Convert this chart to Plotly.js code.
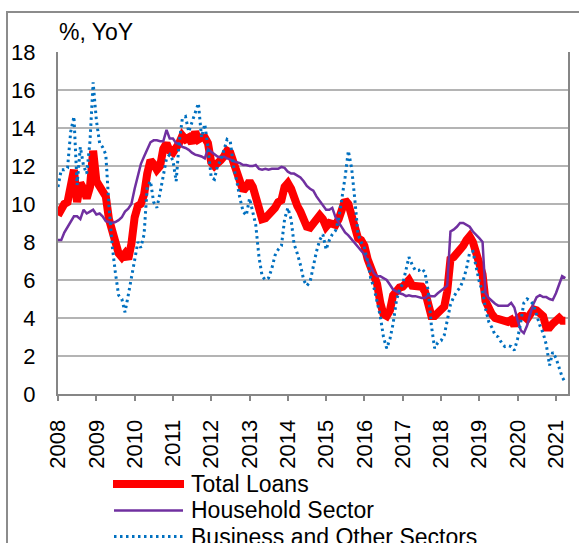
<!DOCTYPE html>
<html>
<head>
<meta charset="utf-8">
<script src="https://cdn.plot.ly/plotly-3.0.1.min.js"></script>
<style>
  html, body { margin: 0; padding: 0; background: #fff; overflow: hidden; }
  #wrap { position: relative; width: 579px; height: 543px; }
  #chart { position: absolute; left: 0; top: 0; width: 579px; height: 543px; }
  #frame { position: absolute; left: 6px; top: 11px; width: 700px; height: 700px;
           border: 2px solid #8c8c8c; pointer-events: none; }
</style>
</head>
<body>
<div id="wrap">
  <div id="chart"></div>
  <div id="frame"></div>
</div>
<script>
// Monthly loan growth, % year on year, January 2008 to April 2021
const startYear = 2008;
const seriesNames = ["Total Loans", "Household Sector", "Business and Other Sectors"];

const totalLoans = [
  9.4, 9.8, 10.0, 10.1, 11.0, 11.8, 10.1, 11.1, 10.8, 10.3, 10.9, 12.8,
  11.2, 10.9, 10.8, 10.4, 9.2, 8.6, 8.0, 7.4, 7.2, 7.4, 7.1, 7.9,
  9.3, 9.9, 10.0, 10.5, 11.6, 12.3, 12.1, 11.8, 12.0, 12.9, 13.2, 12.8,
  12.7, 12.9, 13.2, 13.6, 13.4, 13.5, 13.2, 13.8, 13.4, 13.5, 13.5, 13.2,
  12.2, 12.0, 12.1, 12.3, 12.5, 12.8, 12.7, 12.2, 11.6, 11.2, 10.7, 10.9,
  11.2, 10.9, 10.3, 9.6, 9.2, 9.25, 9.4, 9.6, 9.8, 10.1, 10.2, 10.9,
  11.1, 10.8, 10.3, 9.9, 9.6, 9.3, 8.8, 8.75, 9.0, 9.2, 9.4, 9.2,
  8.8, 9.0, 9.0, 8.9, 9.2, 9.7, 10.2, 10.0, 9.5, 8.7, 8.2, 8.1,
  7.8, 7.1, 6.6, 6.3, 5.8, 4.8, 4.2, 4.1, 4.4, 5.2, 5.5, 5.6,
  5.65, 5.8, 6.0, 5.7, 5.7, 5.6, 5.65, 5.4, 4.5, 4.1, 4.1, 4.3,
  4.45, 4.6, 5.4, 7.1, 7.2, 7.4, 7.5, 7.8, 8.1, 8.3, 8.0, 7.5,
  7.1, 6.3, 4.9, 4.5, 4.2, 4.0, 3.95, 3.85, 3.75, 3.8, 3.9, 3.6,
  3.95, 4.1, 4.1, 3.95, 4.2, 4.45, 4.4, 4.3, 4.1, 3.5, 3.5, 3.7,
  3.8, 4.0, 3.85, 3.85
];

const household = [
  8.1, 8.1, 8.5, 8.8, 9.1, 9.35, 9.35, 9.2, 9.7, 9.5, 9.6, 9.7,
  9.45, 9.5, 9.35, 9.1, 9.05, 9.0, 9.05, 9.15, 9.3, 9.6, 9.75, 10.0,
  10.8, 11.5, 12.1, 12.5, 12.9, 13.25, 13.35, 13.35, 13.3, 13.3, 13.9, 13.45,
  13.45, 13.2, 13.2, 13.0, 12.95, 12.85, 12.7, 12.6, 12.55, 12.5, 12.4, 12.9,
  12.75, 12.6, 12.5, 12.45, 12.5, 12.4, 12.35, 12.25, 12.2, 12.15, 12.05, 12.05,
  12.0, 12.0, 12.05, 11.85, 11.8, 11.85, 11.8, 11.85, 11.85, 11.85, 11.95, 11.9,
  11.7, 11.6, 11.6, 11.5, 11.4, 11.2, 10.95, 10.8, 10.7, 10.4, 10.15, 9.9,
  9.7, 9.7, 9.8, 9.3, 9.05, 8.8, 8.5, 8.35, 8.15, 8.0, 7.8, 7.6,
  7.35, 7.0, 6.7, 6.35, 6.2, 6.2, 6.1, 6.0, 5.75, 5.5, 5.4, 5.3,
  5.25, 5.15, 5.2, 5.15, 5.15, 5.1, 5.05, 5.05, 5.2, 5.15, 5.15, 5.3,
  5.45, 5.6, 5.7, 8.55, 8.65, 8.8, 9.0, 9.0, 8.9, 8.8, 8.55, 8.4,
  8.2, 8.0, 5.3, 5.05, 4.9, 4.75, 4.65, 4.65, 4.65, 4.65, 4.8, 4.55,
  3.9, 3.35, 3.2, 3.6, 4.2, 4.75, 5.1, 5.2, 5.1, 5.1, 5.0, 4.95,
  5.3, 5.75, 6.2, 6.1
];

const business = [
  10.9, 11.8, 11.8, 11.9, 13.8, 14.6, 11.0, 13.0, 12.0, 11.6, 13.3, 16.4,
  14.4, 13.2, 13.0, 12.6, 9.9, 7.8, 6.4, 5.2, 5.0, 4.3, 5.2, 6.1,
  6.9, 8.0, 7.7, 8.4, 10.9, 11.2, 10.1, 9.8, 10.6, 11.6, 12.4, 12.6,
  12.3, 11.2, 13.2, 14.5, 14.6, 13.8, 14.3, 14.8, 15.3, 13.5, 14.2, 13.0,
  11.4, 11.3, 12.0, 12.3, 12.8, 13.4, 13.3, 12.0, 11.2, 10.3, 9.6, 9.4,
  10.3, 9.6, 8.9, 7.2, 6.2, 6.0, 6.1, 6.6, 7.3, 7.6, 7.8, 9.2,
  9.8, 9.2, 7.9, 7.4, 6.8, 6.0, 5.7, 5.9, 6.7, 7.5, 8.1, 8.4,
  7.6, 8.1, 8.4, 8.6, 9.2, 10.3, 11.4, 12.8, 11.9, 10.3, 8.4, 8.0,
  7.7, 7.0, 6.1, 5.6, 4.9, 4.1, 3.0, 2.4, 2.9, 3.7, 4.9, 5.5,
  5.8, 6.5, 7.2, 6.8, 6.5, 6.5, 6.6, 6.4, 5.4, 3.6, 2.4, 2.7,
  2.8, 3.1, 3.9, 4.7, 5.1, 5.4, 5.6, 6.0, 6.6, 7.45, 7.5, 6.7,
  5.9, 5.4, 4.5, 3.8, 3.5, 3.1, 3.0, 2.7, 2.5, 2.55, 2.5, 2.3,
  2.9, 3.8, 4.8, 5.0, 4.9, 4.7, 4.1, 3.6, 3.2, 2.6, 1.5, 2.2,
  1.9, 1.4, 0.9, 0.6
];

const yearLabels = ["2008","2009","2010","2011","2012","2013","2014",
                    "2015","2016","2017","2018","2019","2020","2021"];

// month-start dates for each observation
const months = totalLoans.map(function (_, i) {
  const y = startYear + Math.floor(i / 12);
  const m = (i % 12) + 1;
  return y + "-" + (m < 10 ? "0" + m : m) + "-01";
});
const yearTicks = yearLabels.map(function (y) { return y + "-01-01"; });

const FONT = "Liberation Sans, Arial, sans-serif";
const COLORS = ["#FF0000", "#7030A0", "#0070C0"];

const traces = [
  { x: months, y: totalLoans, name: seriesNames[0], type: "scatter", mode: "lines",
    line: { color: COLORS[0], width: 8 } },
  { x: months, y: household, name: seriesNames[1], type: "scatter", mode: "lines",
    line: { color: COLORS[1], width: 2.5 } },
  { x: months, y: business, name: seriesNames[2], type: "scatter", mode: "lines",
    line: { color: COLORS[2], width: 3, dash: "2.5px,3.5px" } }
];

// legend below the plot, drawn as sample lines plus labels
const L = 58, R = 11, T = 52, B = 149, W = 579, H = 543;
const pw = W - L - R, ph = H - T - B;
const px = function (v) { return (v - L) / pw; };
const py = function (v) { return (H - B - v) / ph; };
const legendRows = [484, 510.5, 536.5];
const legendShapes = [0, 1, 2].map(function (i) {
  return {
    type: "line", xref: "paper", yref: "paper",
    x0: px(i === 0 ? 113 : 114), x1: px(i === 0 ? 184 : 183),
    y0: py(legendRows[i]), y1: py(legendRows[i]),
    line: { color: COLORS[i], width: traces[i].line.width, dash: traces[i].line.dash || "solid" }
  };
});
const legendLabels = [0, 1, 2].map(function (i) {
  return {
    xref: "paper", yref: "paper", x: px(189), y: py(legendRows[i]),
    xanchor: "left", yanchor: "middle", showarrow: false,
    text: seriesNames[i], font: { family: FONT, size: 23, color: "#000" }
  };
});

const layout = {
  width: W, height: H,
  margin: { l: L, r: R, t: T, b: B, pad: 0 },
  paper_bgcolor: "#fff", plot_bgcolor: "#fff",
  showlegend: false,
  title: { text: "%, YoY", x: 59 / W, xanchor: "left", y: 1 - 32 / H, yanchor: "middle",
           font: { family: FONT, size: 23, color: "#000" } },
  xaxis: {
    type: "date", range: ["2008-01-01", "2021-04-26"],
    tickvals: yearTicks, ticktext: yearLabels, tickangle: -90,
    ticks: "outside", ticklen: 5, tickwidth: 2, tickcolor: "#868686",
    ticklabelstandoff: 10,
    showgrid: false, showline: true, linecolor: "#868686", linewidth: 2,
    tickfont: { family: FONT, size: 22, color: "#000" }, fixedrange: true
  },
  yaxis: {
    range: [0, 18], tick0: 0, dtick: 2,
    showgrid: true, gridcolor: "#B4B4B4", gridwidth: 1.5,
    showline: true, linecolor: "#868686", linewidth: 2, mirror: true,
    zeroline: false, ticks: "", ticklabelstandoff: 16,
    tickfont: { family: FONT, size: 22, color: "#000" }, fixedrange: true
  },
  shapes: legendShapes,
  annotations: legendLabels
};

Plotly.newPlot("chart", traces, layout, { displayModeBar: false, staticPlot: true });
</script>
</body>
</html>
